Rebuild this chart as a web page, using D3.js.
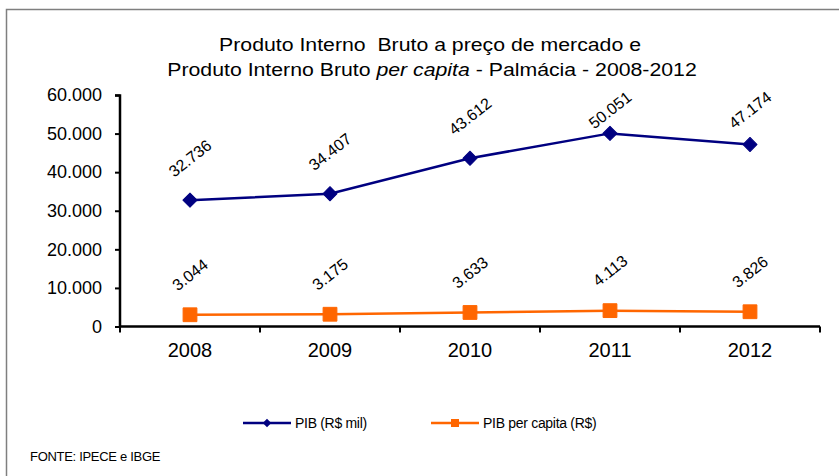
<!DOCTYPE html>
<html><head><meta charset="utf-8">
<script src="https://cdn.jsdelivr.net/npm/d3@7"></script>
<style>body{margin:0;background:#fff}svg{display:block;font-family:"Liberation Sans",Arial,sans-serif}</style>
</head><body>
<svg id="c" width="839" height="476"></svg>
<script>
const years = ["2008","2009","2010","2011","2012"];
const pib = [32736, 34407, 43612, 50051, 47174];
const pibPerCapita = [3044, 3175, 3633, 4113, 3826];
const yTicks = [0, 10000, 20000, 30000, 40000, 50000, 60000];
const seriesNames = ["PIB (R$ mil)", "PIB per capita (R$)"];

const svg = d3.select("#c");
const fmt = v => v === 0 ? "0" : d3.format(",")(v).replace(/,/g, ".");

// frame
svg.append("path").attr("d","M6.5,476 V9.5 H839").attr("fill","none").attr("stroke","#7f7f7f").attr("stroke-width",1.5);

// title (horizontally stretched like the original)
const g1 = svg.append("g").attr("transform","translate(430,51) scale(1.15,1)");
g1.append("text").attr("text-anchor","middle").attr("font-size",18.5).attr("fill","#000")
  .style("white-space","pre").text("Produto Interno  Bruto a preço de mercado e");
const g2 = svg.append("g").attr("transform","translate(432,76) scale(1.15,1)");
const t2 = g2.append("text").attr("text-anchor","middle").attr("font-size",18.5).attr("fill","#000").style("white-space","pre");
t2.append("tspan").text("Produto Interno Bruto ");
t2.append("tspan").attr("font-style","italic").text("per capita");
t2.append("tspan").text(" - Palmácia - 2008-2012");

const x = d3.scaleBand().domain(years).range([120, 820]);
const y = d3.scaleLinear().domain([0, 60000]).range([326.5, 95]);

// y axis
const ya = svg.append("g").attr("transform","translate(120,0)")
  .call(d3.axisLeft(y).tickValues(yTicks).tickFormat(fmt).tickSize(5).tickPadding(13));
ya.select(".domain").attr("stroke","#000").attr("stroke-width",2.5).attr("d","M-5,95.5H0V326.5");
ya.selectAll(".tick line").attr("stroke","#000").attr("stroke-width",2);
ya.selectAll(".tick text").attr("font-size",18).attr("fill","#000").attr("font-family","Liberation Sans, Arial, sans-serif");

// x axis
const xa = svg.append("g").attr("transform","translate(0,326.5)")
  .call(d3.axisBottom(x).tickSize(0).tickPadding(12));
xa.select(".domain").attr("stroke","#000").attr("stroke-width",2.5).attr("d","M120,0H820");
xa.selectAll(".tick text").attr("font-size",20).attr("fill","#000").attr("font-family","Liberation Sans, Arial, sans-serif").attr("dy","0.9em");
const bounds = years.map(d => x(d)).concat([x.range()[1]]);
xa.selectAll(".btick").data(bounds).join("line").attr("class","btick")
  .attr("x1",d=>d).attr("x2",d=>d).attr("y1",0).attr("y2",6).attr("stroke","#000").attr("stroke-width",2);

const cx = d => x(d) + x.bandwidth()/2;

function series(vals, color, isDiamond, labelOff, clampTop) {
  const pts = years.map((d,i)=>[cx(d), y(vals[i]), vals[i]]);
  svg.append("path").attr("d", d3.line()(pts.map(p=>[p[0],p[1]])))
    .attr("fill","none").attr("stroke",color).attr("stroke-width",2.5);
  const sym = d3.symbol().type(d3.symbolSquare).size(isDiamond?100:190);
  svg.selectAll(null).data(pts).join("path")
    .attr("d", sym).attr("transform", p=>`translate(${p[0]},${p[1]})${isDiamond?" rotate(45)":""}`)
    .attr("fill",color).attr("stroke",color).attr("stroke-width",1).attr("stroke-linejoin","round");
  svg.selectAll(null).data(pts).join("text")
    .attr("transform", p=>`translate(${p[0]},${Math.max(p[1]-labelOff, clampTop)}) rotate(-38)`)
    .attr("text-anchor","middle").attr("dy","0.35em").attr("font-size",16).attr("fill","#000")
    .text(p=>fmt(p[2]));
}
series(pib, "#000080", true, 42, 110);
series(pibPerCapita, "#FF6600", false, 40, 0);

// legend
const lg = svg.append("g").attr("font-size",14).attr("fill","#000");
const legendItems = [
  {name: seriesNames[0], color:"#000080", diamond:true, x1:243, x2:291},
  {name: seriesNames[1], color:"#FF6600", diamond:false, x1:431, x2:479}
];
legendItems.forEach(it=>{
  lg.append("line").attr("x1",it.x1).attr("x2",it.x2).attr("y1",423).attr("y2",423).attr("stroke",it.color).attr("stroke-width",2.5);
  lg.append("path").attr("d", d3.symbol().type(d3.symbolSquare).size(it.diamond?36:64)())
    .attr("transform",`translate(${(it.x1+it.x2)/2},423)${it.diamond?" rotate(45)":""}`).attr("fill",it.color);
  lg.append("text").attr("x",it.x2+4).attr("y",423).attr("dy","0.35em").attr("letter-spacing",-0.3).text(it.name);
});

svg.append("text").attr("x",30).attr("y",461).attr("font-size",13).attr("letter-spacing",-0.3).attr("fill","#000").text("FONTE: IPECE e IBGE");
</script>
</body></html>
